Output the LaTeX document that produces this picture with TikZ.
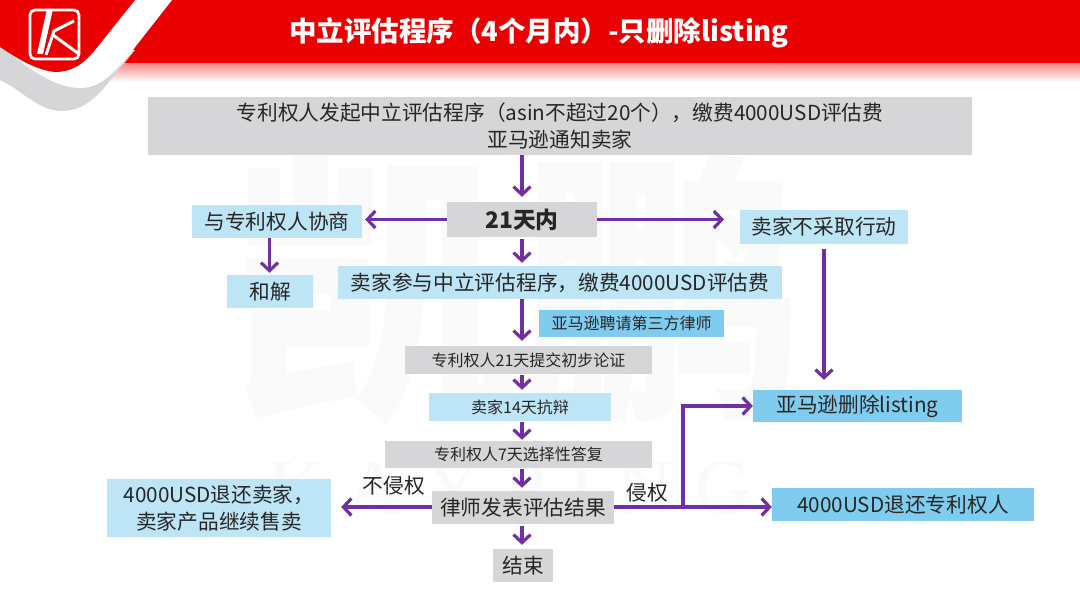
\documentclass[tikz,border=0pt]{standalone}
\usepackage{fontspec}
\setmainfont{Noto Sans CJK SC}
\newfontfamily\serifwm{Liberation Serif}
\usetikzlibrary{arrows.meta,calc}
\definecolor{hred}{HTML}{EA0000}
\definecolor{grayb}{HTML}{D6D6D8}
\definecolor{lblue}{HTML}{BDE5F6}
\definecolor{mblue}{HTML}{80CCEE}
\definecolor{purp}{HTML}{7030A0}
\definecolor{txt}{HTML}{262626}
\definecolor{wm}{HTML}{FAFAFA}
\tikzset{
 x=1pt,y=-1pt,
 grayn/.style={fill=grayb},
 lightn/.style={fill=lblue},
 bluen/.style={fill=mblue},
 big/.style={font=\fontsize{20.7}{27}\selectfont},
 small/.style={font=\fontsize{16}{20}\selectfont},
 flow/.style={draw=purp,line width=3.2pt,-{Straight Barb[length=8pt,width=17pt,line width=3.2pt]}},
}
\newcommand{\bx}[7]{% name, style, x0, y0, x1, y1, text
 \node[#2,inner sep=0pt,text=txt,align=center,minimum width=#5pt-#3pt,minimum height=#6pt-#4pt] (#1) at ({(#3+#5)/2},{(#4+#6)/2}) {#7};}
\begin{document}
\begin{tikzpicture}
\useasboundingbox (0,0) rectangle (1080,607);
\fill[white] (0,0) rectangle (1080,607);
% watermark
\node[text=wm,font=\fontsize{285}{285}\selectfont\bfseries,inner sep=0pt] (wmark) at (518,290) {凯鹏};
\node[text=wm,font=\fontsize{78}{78}\selectfont\serifwm,inner sep=0pt] (wmarkb) at (510,488) {K\hspace{22pt}A\hspace{22pt}Y\hspace{22pt}P\hspace{22pt}I\hspace{22pt}N\hspace{22pt}G};
% header
\shade[top color=hred!50,bottom color=white] (0,62) rectangle (1080,82);
\fill[hred] (0,0) rectangle (1080,63);
% swoosh
\fill[grayb] (0,45) -- (0,80) .. controls (22,90) and (38,111) .. (62,111) .. controls (82,111) and (96,98) .. (108,83) -- (135,50) -- (60,40) -- cycle;
\fill[white] (0,47) .. controls (20,60) and (50,88) .. (80,88) .. controls (100,88) and (112,74) .. (125,60) -- (172,0) -- (0,0) -- cycle;
\fill[hred] (0,0) -- (135,0) -- (95,50) .. controls (82,66) and (70,72) .. (55,72) .. controls (35,70) and (15,57) .. (0,47) -- cycle;
% logo
\draw[white,line width=2.8pt,rounded corners=5pt] (30,10) rectangle (79,59);
\fill[white] (47,9) -- (53,9) -- (43,54) -- (37,54) -- cycle;
\draw[white,line width=3pt,line join=miter] (74,21) -- (54,31) -- (46,55);
\draw[white,line width=3pt] (53,35) -- (79,54);
\node[text=white,font=\fontsize{27.5}{32}\selectfont\bfseries,inner sep=0pt] (title) at (539,32.5) {中立评估程序（4个月内）-只删除listing};
% boxes
\bx{top}{grayn,big}{148}{97}{972}{155}{专利权人发起中立评估程序（asin不超过20个），缴费4000USD评估费\\亚马逊通知卖家}
\bx{d21}{grayn,font=\fontsize{22.8}{26}\selectfont\bfseries}{447}{202}{597}{237}{21天内}
\bx{nego}{lightn,big}{192}{205}{362}{238}{与专利权人协商}
\bx{noact}{lightn,big}{740}{210}{908}{244}{卖家不采取行动}
\bx{settle}{lightn,big}{227}{275}{313}{308}{和解}
\bx{join}{lightn,big}{338}{266}{782}{299}{卖家参与中立评估程序，缴费4000USD评估费}
\bx{hire}{bluen,small}{539}{310}{724}{337}{亚马逊聘请第三方律师}
\bx{p21}{grayn,small}{405}{346}{652}{374}{专利权人21天提交初步论证}
\bx{s14}{lightn,small}{429}{393}{611}{421}{卖家14天抗辩}
\bx{p7}{grayn,small}{385}{441}{652}{468}{专利权人7天选择性答复}
\bx{res}{grayn,big}{432}{491}{614}{524}{律师发表评估结果}
\bx{fin}{grayn,big}{493}{549}{553}{582}{结束}
\bx{back}{lightn,big}{107}{479}{331}{537}{4000USD退还卖家，\\卖家产品继续售卖}
\bx{del}{bluen,big}{753}{390}{962}{422}{亚马逊删除listing}
\bx{refund}{bluen,big}{772}{488}{1034}{521}{4000USD退还专利权人}
% labels
\node[text=txt,big,inner sep=0pt] (lno) at (394,486) {不侵权};
\node[text=txt,big,inner sep=0pt] (lyes) at (647,493) {侵权};
% connectors
\coordinate (xc) at (522,0);
\coordinate (ln) at (0,219.5);
\coordinate (lr) at (0,507);
\coordinate (xa) at (269.5,0);
\coordinate (xb) at (824,0);
\coordinate (xbr) at (683,0);
\coordinate (cn) at (724,219.5);
\draw[flow,shorten >=5pt] (top.south -| xc) -- (d21.north -| xc);
\draw[flow,shorten >=3pt] (d21.west |- ln) -- (nego.east |- ln);
\draw[flow] (d21.east |- ln) -- (cn);
\draw[flow,shorten >=2pt] (nego.south -| xa) -- (settle.north -| xa);
\draw[flow,shorten >=3pt,shorten <=2pt] (d21.south -| xc) -- (join.north -| xc);
\draw[flow,shorten >=5pt] (join.south -| xc) -- (p21.north -| xc);
\draw[flow,shorten <=1pt,shorten >=3pt] (p21.south -| xc) -- (s14.north -| xc);
\draw[flow,shorten <=1pt,shorten >=1pt] (s14.south -| xc) -- (p7.north -| xc);
\draw[flow,shorten <=1pt,shorten >=3pt] (p7.south -| xc) -- (res.north -| xc);
\draw[flow,shorten <=2pt,shorten >=4pt] (res.south -| xc) -- (fin.north -| xc);
\draw[flow,shorten >=10pt] (res.west |- lr) -- (back.east |- lr);
\draw[flow] (res.east |- lr) -- (refund.west |- lr);
\draw[flow] (xbr |- lr) |- (del.west);
\draw[flow,shorten <=5pt,shorten >=10pt] (noact.south -| xb) -- (del.north -| xb);
\end{tikzpicture}
\end{document}
